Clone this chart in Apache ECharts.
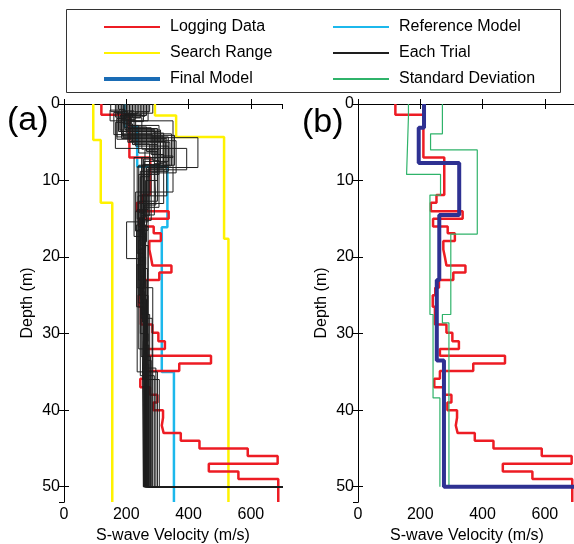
<!DOCTYPE html>
<html>
<head>
<meta charset="utf-8">
<script src="https://cdn.jsdelivr.net/npm/echarts@6/dist/echarts.min.js"></script>
<style>
  html, body { margin: 0; padding: 0; background: #fff; }
  #chart { width: 574px; height: 544px; }
</style>
</head>
<body>
<div id="chart"></div>
<script>
// layer bottoms (m) and S-wave velocities (m/s) for each step profile
var logBounds = [1.4, 7.0, 11.9, 12.9, 14.0, 15.0, 16.0, 16.9, 17.9, 19.0, 20.0, 21.1, 22.0, 23.0, 24.0, 25.0, 26.5, 28.8, 29.9, 31.0, 32.0, 32.9, 33.9, 34.9, 35.9, 37.0, 38.0, 39.0, 40.0, 41.0, 42.0, 43.0, 44.0, 45.0, 46.0, 47.0, 48.0, 49.0, 52]
var logVels   = [120, 210, 277, 252, 234, 336, 241, 288, 311, 274, 279, 284, 345, 306, 260, 248, 240, 247, 284, 303, 324, 263, 472, 370, 263, 245, 276, 300, 287, 318, 314, 320, 375, 435, 590, 686, 465, 560, 688]

var rangeLowBounds = [4.7, 12.9, 52]
var rangeLowVels   = [94, 118, 155]
var rangeHighBounds = [1.5, 4.3, 17.6, 52]
var rangeHighVels   = [292, 360, 514, 528]

var refBounds = [3.0, 8.2, 16.1, 35.0, 52]
var refVels   = [194, 235, 332, 314, 353]

var finalBounds = [3.1, 7.7, 14.5, 23.0, 33.5, 50, 52]
var finalVels   = [212, 195, 325, 261, 253, 276, 760]

var sdLowBounds = [1.6, 9.2, 11.9, 27.5, 38.4, 50]
var sdLowVels   = [162, 156, 265, 231, 241, 263]
var sdHighBounds = [3.9, 6.0, 17.0, 27.5, 28.6, 50]
var sdHighVels   = [271, 233, 383, 298, 271, 292]

var trialBounds = [
  [1.0, 3.2, 7.0, 14.0, 16.5, 24.5, 50, 52],
  [1.8, 4.5, 8.2, 15.0, 17.5, 27.0, 50, 52],
  [1.2, 3.0, 6.2, 12.7, 15.8, 23.5, 50, 52],
  [2.4, 5.8, 8.6, 15.4, 20.2, 30.0, 50, 52],
  [1.5, 4.4, 8.3, 12.7, 22.5, 33.0, 50, 52],
  [0.8, 2.2, 7.0, 17.3, 19.0, 26.0, 50, 52],
  [2.0, 3.8, 7.8, 14.5, 16.2, 24.0, 50, 52],
  [1.3, 5.2, 9.5, 15.8, 21.0, 35.0, 50, 52],
  [1.6, 3.4, 6.8, 11.5, 16.6, 28.5, 50, 52],
  [2.8, 6.4, 10.0, 14.8, 18.5, 31.0, 50, 52],
  [1.1, 4.0, 7.4, 13.5, 17.0, 25.5, 50, 52],
  [2.2, 5.0, 8.0, 16.0, 22.0, 34.0, 50, 52],
  [0.9, 3.6, 7.2, 14.2, 15.8, 26.5, 50, 52],
  [1.7, 4.8, 9.0, 15.2, 20.5, 36.0, 50, 52],
  [2.5, 4.2, 8.4, 13.8, 19.5, 29.0, 50, 52],
  [1.4, 3.3, 6.0, 15.0, 17.8, 32.0, 50, 52],
  [2.1, 5.5, 8.8, 14.0, 18.0, 27.5, 50, 52],
  [1.0, 2.8, 7.6, 12.0, 16.4, 24.8, 50, 52],
  [1.9, 4.6, 7.0, 15.6, 23.5, 35.5, 50, 52],
  [1.3, 3.9, 8.1, 14.6, 16.9, 30.5, 50, 52],
  [1.5, 3.6, 7.9, 14.3, 17.2, 26.0, 50, 52],
  [2.3, 4.9, 8.6, 15.1, 19.0, 33.5, 50, 52],
  [0.7, 3.1, 6.6, 13.0, 16.0, 25.0, 50, 52],
  [1.8, 5.9, 9.2, 14.9, 21.5, 30.0, 50, 52],
  [1.2, 4.3, 7.5, 14.7, 18.8, 28.0, 50, 52],
  [2.6, 5.3, 8.9, 16.5, 24.0, 34.5, 50, 52],
  [1.5, 3.5, 7.3, 13.2, 15.6, 23.0, 50, 52],
  [2.0, 4.1, 8.0, 14.4, 20.0, 31.5, 50, 52]
]
var trialVels = [
  [150, 205, 300, 250, 230, 245, 258, 760],
  [245, 185, 330, 235, 245, 255, 265, 760],
  [285, 215, 265, 300, 240, 250, 255, 760],
  [195, 165, 394, 270, 201, 245, 270, 760],
  [210, 190, 430, 265, 255, 248, 278, 760],
  [180, 148, 350, 225, 260, 240, 262, 760],
  [230, 200, 320, 290, 250, 258, 285, 760],
  [170, 225, 275, 245, 262, 235, 300, 760],
  [260, 180, 310, 350, 230, 252, 260, 760],
  [205, 240, 300, 262, 248, 270, 255, 760],
  [190, 160, 285, 305, 255, 245, 265, 760],
  [270, 205, 340, 240, 270, 265, 272, 760],
  [225, 175, 295, 255, 240, 233, 258, 760],
  [165, 215, 360, 280, 245, 255, 306, 760],
  [215, 190, 318, 270, 235, 260, 268, 760],
  [250, 195, 290, 260, 252, 240, 262, 760],
  [185, 230, 335, 245, 265, 250, 275, 760],
  [275, 210, 305, 330, 238, 256, 260, 760],
  [200, 170, 325, 250, 258, 245, 290, 760],
  [235, 185, 345, 275, 250, 262, 266, 760],
  [200, 180, 310, 255, 245, 250, 262, 760],
  [255, 210, 325, 265, 240, 258, 280, 760],
  [175, 195, 280, 320, 250, 242, 270, 760],
  [220, 250, 305, 240, 255, 268, 258, 760],
  [240, 170, 335, 258, 262, 248, 283, 760],
  [190, 220, 300, 270, 235, 255, 295, 760],
  [265, 200, 290, 295, 258, 240, 264, 760],
  [210, 185, 355, 250, 245, 262, 272, 760]
]

var RED = '#ed1c24', YELLOW = '#fff200', CYAN = '#1cb8ec', NAVY = '#2e3192',
    LEGBLUE = '#1a6cb5', GREEN = '#2fb36a', BLACK = '#1e1e1e'

// turn layer bottoms + velocities into a staircase path [v, depth]
function steps(bounds, vels) {
  var pts = [[vels[0], 0]]
  for (var i = 0; i < bounds.length; i++) {
    pts.push([vels[i], bounds[i]])
    if (i + 1 < vels.length) pts.push([vels[i + 1], bounds[i]])
  }
  return pts
}

function line(name, g, bounds, vels, color, width) {
  return {
    name: name, type: 'line', xAxisIndex: g * 2, yAxisIndex: g * 2,
    data: steps(bounds, vels), symbol: 'none', clip: true,
    lineStyle: { color: color, width: width }, itemStyle: { color: color },
    silent: true
  }
}

function xAxes(g) {
  var base = { gridIndex: g, type: 'value', min: 0, max: 700, interval: 200,
    splitLine: { show: false },
    axisLine: { show: true, lineStyle: { color: '#000', width: 1 } },
    axisTick: { show: true, inside: true, length: 5, lineStyle: { color: '#000' } } }
  return [
    Object.assign({}, base, {
      position: 'bottom',
      axisLabel: { showMaxLabel: false, fontSize: 16, color: '#000', margin: 5, fontFamily: 'Liberation Sans' },
      name: 'S-wave Velocity (m/s)', nameLocation: 'middle', nameGap: 17,
      nameTextStyle: { fontSize: 16, color: '#000', fontFamily: 'Liberation Sans' }
    }),
    Object.assign({}, base, { position: 'top', axisLabel: { show: false } })
  ]
}

function yAxes(g) {
  var base = { gridIndex: g, type: 'value', min: 0, max: 52, interval: 10, inverse: true,
    splitLine: { show: false },
    axisLine: { show: true, lineStyle: { color: '#000', width: 1 } },
    axisTick: { show: true, inside: true, length: 5, lineStyle: { color: '#000' } } }
  return [
    Object.assign({}, base, {
      position: 'left',
      axisLabel: { showMaxLabel: false, fontSize: 16, color: '#000', margin: 4, fontFamily: 'Liberation Sans' },
      name: 'Depth (m)', nameLocation: 'middle', nameGap: 28, nameRotate: 90,
      nameTextStyle: { fontSize: 16, color: '#000', fontFamily: 'Liberation Sans' }
    }),
    Object.assign({}, base, { position: 'right', axisLabel: { show: false } })
  ]
}

var series = [
  line('Search Range', 0, rangeLowBounds, rangeLowVels, YELLOW, 2.5),
  line('Search Range', 0, rangeHighBounds, rangeHighVels, YELLOW, 2.5),
  line('Reference Model', 0, refBounds, refVels, CYAN, 2.5),
  line('Logging Data', 0, logBounds, logVels, RED, 2.5)
]
for (var t = 0; t < trialBounds.length; t++) {
  series.push(line('Each Trial', 0, trialBounds[t], trialVels[t], BLACK, 1))
}
series.push(line('Logging Data', 1, logBounds, logVels, RED, 2.5))
series.push(line('Standard Deviation', 1, sdLowBounds, sdLowVels, GREEN, 1.2))
series.push(line('Standard Deviation', 1, sdHighBounds, sdHighVels, GREEN, 1.2))
series.push(line('Final Model', 1, finalBounds, finalVels, NAVY, 4))

var legendBase = {
  orient: 'vertical', top: 14, itemWidth: 56, itemHeight: 14, itemGap: 10,
  selectedMode: false,
  itemStyle: { opacity: 0 },
  textStyle: { fontSize: 16, color: '#000', lineHeight: 16, padding: [0, 0, 0, 5], fontFamily: 'Liberation Sans' }
}

var chart = echarts.init(document.getElementById('chart'))
chart.setOption({
  animation: false,
  backgroundColor: '#fff',
  textStyle: { fontFamily: 'Liberation Sans' },
  grid: [
    { left: 64, top: 104, width: 218, height: 398, outerBoundsMode: 'none', containLabel: false },
    { left: 358, top: 104, width: 218, height: 398, outerBoundsMode: 'none', containLabel: false }
  ],
  xAxis: xAxes(0).concat(xAxes(1)),
  yAxis: yAxes(0).concat(yAxes(1)),
  legend: [
    Object.assign({}, legendBase, { left: 97,
      data: ['Logging Data', 'Search Range',
        { name: 'Final Model', itemStyle: { color: LEGBLUE, opacity: 0 }, lineStyle: { color: LEGBLUE, width: 4 } }] }),
    Object.assign({}, legendBase, { left: 327,
      data: ['Reference Model', 'Each Trial', 'Standard Deviation'] })
  ],
  graphic: [
    { type: 'rect', shape: { x: 66.5, y: 9.5, width: 494, height: 83 },
      style: { fill: 'none', stroke: '#333', lineWidth: 1 }, silent: true },
    { type: 'text', left: 7, top: 104,
      style: { text: '(a)', fontSize: 34, fill: '#000', fontFamily: 'Liberation Sans' } },
    { type: 'text', left: 302, top: 106,
      style: { text: '(b)', fontSize: 34, fill: '#000', fontFamily: 'Liberation Sans' } }
  ],
  series: series
})
</script>
</body>
</html>
